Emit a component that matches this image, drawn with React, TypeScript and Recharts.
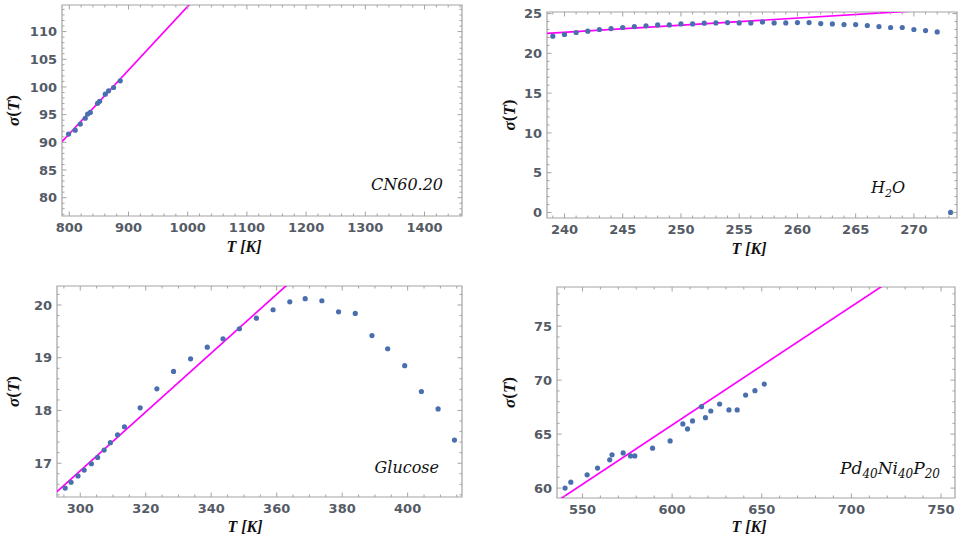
import React from 'react';
import { ComposedChart, XAxis, YAxis, Scatter, Line, ReferenceArea } from 'recharts';

// ---------- Panel 1: CN60.20 ----------
const cnT = [798.8, 810, 818.6, 827, 831, 835.5, 847.8, 851.2, 860.8, 866.4, 874.8, 886.1];
const cnSigma = [91.5, 92.2, 93.3, 94.35, 95.1, 95.4, 97.05, 97.4, 98.7, 99.3, 99.9, 101.1];
const cnFitT = [787.7, 1463.3];
const cnFitSigma = [90.1, 167.9];
const cnXTicks = [800, 900, 1000, 1100, 1200, 1300, 1400];
const cnYTicks = [80, 85, 90, 95, 100, 105, 110];

// ---------- Panel 2: H2O ----------
const h2oT = [239, 240, 241, 242, 243, 244, 245, 246, 247, 248, 249, 250, 251, 252, 253, 254, 255, 256,
  257, 258, 259, 260, 261, 262, 263, 264, 265, 266, 267, 268, 269, 270, 271, 272, 273.15];
const h2oSigma = [22.16, 22.37, 22.62, 22.79, 23.0, 23.12, 23.25, 23.37, 23.46, 23.58, 23.58, 23.7, 23.7,
  23.79, 23.83, 23.87, 23.83, 23.83, 23.95, 23.83, 23.83, 23.87, 23.87, 23.75, 23.7, 23.62, 23.62, 23.5,
  23.37, 23.25, 23.25, 23.0, 22.87, 22.7, 0];
const h2oFitT = [238.5, 273.7];
const h2oFitSigma = [22.5, 25.67];
const h2oXTicks = [240, 245, 250, 255, 260, 265, 270];
const h2oYTicks = [0, 5, 10, 15, 20, 25];

// ---------- Panel 3: Glucose ----------
const gluT = [295.4, 297.2, 299.3, 301.2, 303.4, 305.3, 307.3, 309.2, 311.4, 313.5, 318.3, 323.4, 328.5,
  333.7, 338.8, 343.6, 348.6, 353.8, 358.9, 364, 368.7, 373.8, 378.9, 384, 389.1, 393.9, 399.1, 404.2,
  409.3, 414.3];
const gluSigma = [16.53, 16.64, 16.76, 16.87, 16.99, 17.11, 17.25, 17.39, 17.54, 17.69, 18.05, 18.41, 18.74,
  18.98, 19.2, 19.36, 19.55, 19.75, 19.91, 20.06, 20.12, 20.08, 19.87, 19.84, 19.42, 19.17, 18.85, 18.36,
  18.03, 17.44];
const gluFitT = [292.9, 416.6];
const gluFitSigma = [16.46, 23.36];
const gluXTicks = [300, 320, 340, 360, 380, 400];
const gluYTicks = [17, 18, 19, 20];

// ---------- Panel 4: Pd40Ni40P20 ----------
const pdT = [540.3, 543.5, 552.6, 558.4, 565.2, 566.5, 572.7, 576.8, 579.2, 589.1, 598.9, 606, 608.6, 611.4,
  616.4, 618.6, 621.6, 626.5, 631.7, 636.3, 641, 646.2, 651.4];
const pdSigma = [60.0, 60.55, 61.23, 61.85, 62.62, 63.08, 63.26, 62.98, 62.98, 63.7, 64.37, 65.94, 65.48,
  66.22, 67.54, 66.52, 67.14, 67.79, 67.24, 67.24, 68.62, 69.02, 69.64];
const pdFitT = [535.8, 757.8];
const pdFitSigma = [58.79, 83.17];
const pdXTicks = [550, 600, 650, 700, 750];
const pdYTicks = [60, 65, 70, 75];

const FRAME = '#a3a3a3';
const TICK_TEXT = '#555b66';
const DOT = '#4a6fae';
const FIT = '#ff00ff';

function allTicks(domain: [number, number], step: number): number[] {
  const out: number[] = [];
  const s = Math.ceil(domain[0] / step - 1e-9);
  const e = Math.floor(domain[1] / step + 1e-9);
  for (let i = s; i <= e; i++) out.push(+(i * step).toFixed(6));
  return out;
}

const isMajor = (v: number, majors: number[]) => majors.some((m) => Math.abs(m - v) < 1e-6);

type PanelProps = {
  left: number; top: number; width: number; height: number;
  frame: { l: number; t: number; r: number; b: number };
  xDomain: [number, number]; yDomain: [number, number];
  xMajor: number[]; xMinorStep: number; yMajor: number[]; yMinorStep: number;
  ptsT: number[]; ptsS: number[]; fitT: number[]; fitS: number[];
};

function Panel(p: PanelProps) {
  const { frame } = p;
  const pts = p.ptsT.map((t, i) => ({ t, s: p.ptsS[i] }));
  const fit = p.fitT.map((t, i) => ({ t, s: p.fitS[i] }));
  const xTicks = allTicks(p.xDomain, p.xMinorStep);
  const yTicks = allTicks(p.yDomain, p.yMinorStep);

  const XTick = (props: any) => {
    const x = props.x;
    const v = props.payload.value;
    const major = isMajor(v, p.xMajor);
    const len = major ? 4.5 : 2.5;
    return (
      <g>
        <line x1={x} x2={x} y1={frame.b} y2={frame.b - len} stroke={FRAME} strokeWidth={1} />
        <line x1={x} x2={x} y1={frame.t} y2={frame.t + len} stroke={FRAME} strokeWidth={1} />
        {major && (
          <text x={x} y={frame.b + 16} textAnchor="middle" fontFamily="DejaVu Sans" fontWeight="bold"
            fontSize={13} fill={TICK_TEXT}>{v}</text>
        )}
      </g>
    );
  };

  const YTick = (props: any) => {
    const y = props.y;
    const v = props.payload.value;
    const major = isMajor(v, p.yMajor);
    const len = major ? 4.5 : 2.5;
    return (
      <g>
        <line x1={frame.l} x2={frame.l + len} y1={y} y2={y} stroke={FRAME} strokeWidth={1} />
        <line x1={frame.r} x2={frame.r - len} y1={y} y2={y} stroke={FRAME} strokeWidth={1} />
        {major && (
          <text x={frame.l - 5} y={y + 4.7} textAnchor="end" fontFamily="DejaVu Sans" fontWeight="bold"
            fontSize={13} fill={TICK_TEXT}>{v}</text>
        )}
      </g>
    );
  };

  const Dot = (props: any) => <circle cx={props.cx} cy={props.cy} r={2.6} fill={DOT} />;

  return (
    <div style={{ position: 'absolute', left: p.left, top: p.top, width: p.width, height: p.height }}>
      <ComposedChart
        width={p.width}
        height={p.height}
        margin={{ top: frame.t, right: p.width - frame.r, bottom: 0, left: 0 }}
      >
        <XAxis dataKey="t" type="number" domain={p.xDomain} allowDataOverflow ticks={xTicks} interval={0}
          height={p.height - frame.b} axisLine={false} tickLine={false} tick={XTick} />
        <YAxis dataKey="s" type="number" domain={p.yDomain} allowDataOverflow ticks={yTicks} interval={0}
          width={frame.l} axisLine={false} tickLine={false} tick={YTick} />
        <ReferenceArea x1={p.xDomain[0]} x2={p.xDomain[1]} y1={p.yDomain[0]} y2={p.yDomain[1]}
          fill="none" fillOpacity={0} stroke={FRAME} strokeWidth={1.2} />
        <Scatter data={pts} dataKey="s" fill={DOT} shape={Dot} isAnimationActive={false} />
        <Line data={fit} dataKey="s" type="linear" stroke={FIT} strokeWidth={1.7} dot={false}
          activeDot={false} isAnimationActive={false} />
      </ComposedChart>
    </div>
  );
}

const serif = 'Liberation Serif';
const annot = 'DejaVu Serif';

function YLabel({ cx, cy }: { cx: number; cy: number }) {
  return (
    <text transform={`translate(${cx},${cy}) rotate(-90)`} textAnchor="middle" dominantBaseline="central"
      fontFamily={serif} fontWeight="bold" fontSize={17} fill="#111">
      <tspan fontStyle="italic">σ</tspan>(<tspan fontStyle="italic">T</tspan>)
    </text>
  );
}

function XLabel({ x, y }: { x: number; y: number }) {
  return (
    <text x={x} y={y} textAnchor="middle" fontFamily={serif} fontWeight="bold" fontStyle="italic"
      fontSize={16} fill="#111">T [K]</text>
  );
}

export default function App() {
  return (
    <div style={{ position: 'absolute', left: 0, top: 0, width: 965, height: 543, background: '#fff' }}>
      <Panel left={0} top={0} width={480} height={270} frame={{ l: 62, t: 5, r: 462, b: 216 }}
        xDomain={[787.7, 1463.3]} yDomain={[76.7, 114.8]} xMajor={cnXTicks} xMinorStep={20}
        yMajor={cnYTicks} yMinorStep={1} ptsT={cnT} ptsS={cnSigma} fitT={cnFitT} fitS={cnFitSigma} />
      <Panel left={480} top={0} width={485} height={270} frame={{ l: 67, t: 12, r: 477, b: 218 }}
        xDomain={[238.5, 273.7]} yDomain={[-0.7, 25.2]} xMajor={h2oXTicks} xMinorStep={1}
        yMajor={h2oYTicks} yMinorStep={1} ptsT={h2oT} ptsS={h2oSigma} fitT={h2oFitT} fitS={h2oFitSigma} />
      <Panel left={0} top={270} width={480} height={273} frame={{ l: 57, t: 16, r: 462, b: 227 }}
        xDomain={[292.9, 416.6]} yDomain={[16.36, 20.36]} xMajor={gluXTicks} xMinorStep={5}
        yMajor={gluYTicks} yMinorStep={0.2} ptsT={gluT} ptsS={gluSigma} fitT={gluFitT} fitS={gluFitSigma} />
      <Panel left={480} top={270} width={485} height={273} frame={{ l: 77, t: 17, r: 475, b: 228 }}
        xDomain={[535.8, 757.8]} yDomain={[59.08, 78.63]} xMajor={pdXTicks} xMinorStep={10}
        yMajor={pdYTicks} yMinorStep={1} ptsT={pdT} ptsS={pdSigma} fitT={pdFitT} fitS={pdFitSigma} />

      <svg width={965} height={543} style={{ position: 'absolute', left: 0, top: 0, pointerEvents: 'none' }}>
        <YLabel cx={12.5} cy={110.5} />
        <YLabel cx={508.5} cy={115} />
        <YLabel cx={12.5} cy={391.5} />
        <YLabel cx={508.5} cy={392.5} />
        <XLabel x={244} y={252} />
        <XLabel x={749} y={254} />
        <XLabel x={245} y={532} />
        <XLabel x={749} y={532} />

        <text x={443} y={190} textAnchor="end" fontFamily={annot} fontStyle="italic" fontSize={16} fill="#111">CN60.20</text>
        <text x={905} y={193} textAnchor="end" fontFamily={annot} fontStyle="italic" fontSize={16} fill="#111">
          H<tspan fontSize={11} dy={4}>2</tspan><tspan dy={-4}>O</tspan>
        </text>
        <text x={439} y={473} textAnchor="end" fontFamily={annot} fontStyle="italic" fontSize={16} fill="#111">Glucose</text>
        <text x={940} y={474} textAnchor="end" fontFamily={annot} fontStyle="italic" fontSize={17} fill="#111">
          Pd<tspan fontSize={12} dy={4}>40</tspan><tspan dy={-4}>Ni</tspan><tspan fontSize={12} dy={4}>40</tspan><tspan dy={-4}>P</tspan><tspan fontSize={12} dy={4}>20</tspan>
        </text>
      </svg>
    </div>
  );
}
